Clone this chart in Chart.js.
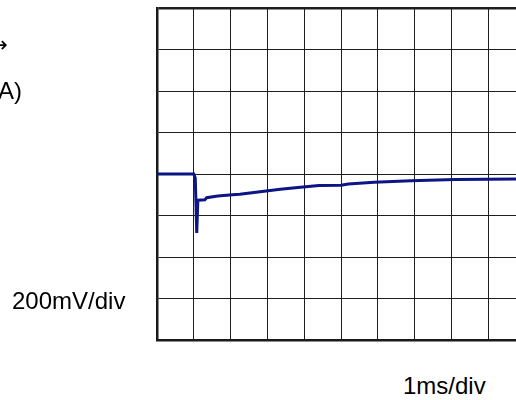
<!DOCTYPE html>
<html>
<head>
<meta charset="utf-8">
<script src="https://cdn.jsdelivr.net/npm/chart.js@4.4.0/dist/chart.umd.min.js"></script>
<style>
  html, body { margin: 0; padding: 0; background: #fff; overflow: hidden; width: 516px; height: 400px; }
  .lbl { position: absolute; font-family: "Liberation Sans", Arial, sans-serif; font-size: 24px; color: #000; white-space: nowrap; line-height: 1; }
  #scope { position: absolute; left: 0; top: 0; }
</style>
</head>
<body>
<canvas id="scope" width="530" height="346" style="width:530px;height:346px"></canvas>
<div class="lbl" style="left:-22px; top:34px; width:30px; text-align:right; font-family:'DejaVu Sans', sans-serif; font-size:22px;">→</div>
<div class="lbl" style="left:-2px; top:79px;">A)</div>
<div class="lbl" style="left:12px; top:289px;">200mV/div</div>
<div class="lbl" style="left:403px; top:374px;">1ms/div</div>
<script>
// Trace read from the scope shot: time in ms, voltage in mV (200mV/div)
const timeMs = [0, 1.0, 1.04, 1.08, 1.11, 1.3, 1.35, 1.65, 2.05, 2.25, 2.8, 3.35, 3.9, 4.4, 5.0, 5.2, 5.9, 6.9, 8.1, 9.8, 10];
const voltMv = [0, 0, -20, -284, -126, -124, -114, -106, -100, -98, -86, -74, -64, -56, -54, -48, -40, -32, -26, -24, -24];

const xTicks = { min: 0, max: 10, step: 1 };
const yTicks = { min: -800, max: 800, step: 200 };

const points = timeMs.map((t, i) => ({ x: t, y: voltMv[i] }));

const gridStyle = (edge) => ({
    color: '#1e1e1e',
    lineWidth: ctx => (ctx.tick && ctx.tick.value === edge) ? 2.5 : 1,
    drawTicks: false
});

new Chart(document.getElementById('scope'), {
    type: 'line',
    data: {
        datasets: [{
            data: points,
            borderColor: '#0c1585',
            borderWidth: 3,
            pointRadius: 0,
            tension: 0,
            fill: false
        }]
    },
    options: {
        responsive: false,
        animation: false,
        layout: { padding: { left: 157, top: 8, right: 5, bottom: 6 } },
        scales: {
            x: {
                type: 'linear',
                min: xTicks.min,
                max: xTicks.max,
                ticks: { display: false, stepSize: xTicks.step },
                grid: gridStyle(xTicks.max),
                border: { display: true, width: 2.5, color: '#1a1a1a' }
            },
            y: {
                type: 'linear',
                min: yTicks.min,
                max: yTicks.max,
                ticks: { display: false, stepSize: yTicks.step },
                grid: gridStyle(yTicks.max),
                border: { display: true, width: 2.5, color: '#1a1a1a' }
            }
        },
        plugins: {
            legend: { display: false },
            tooltip: { enabled: false }
        }
    }
});
</script>
</body>
</html>
